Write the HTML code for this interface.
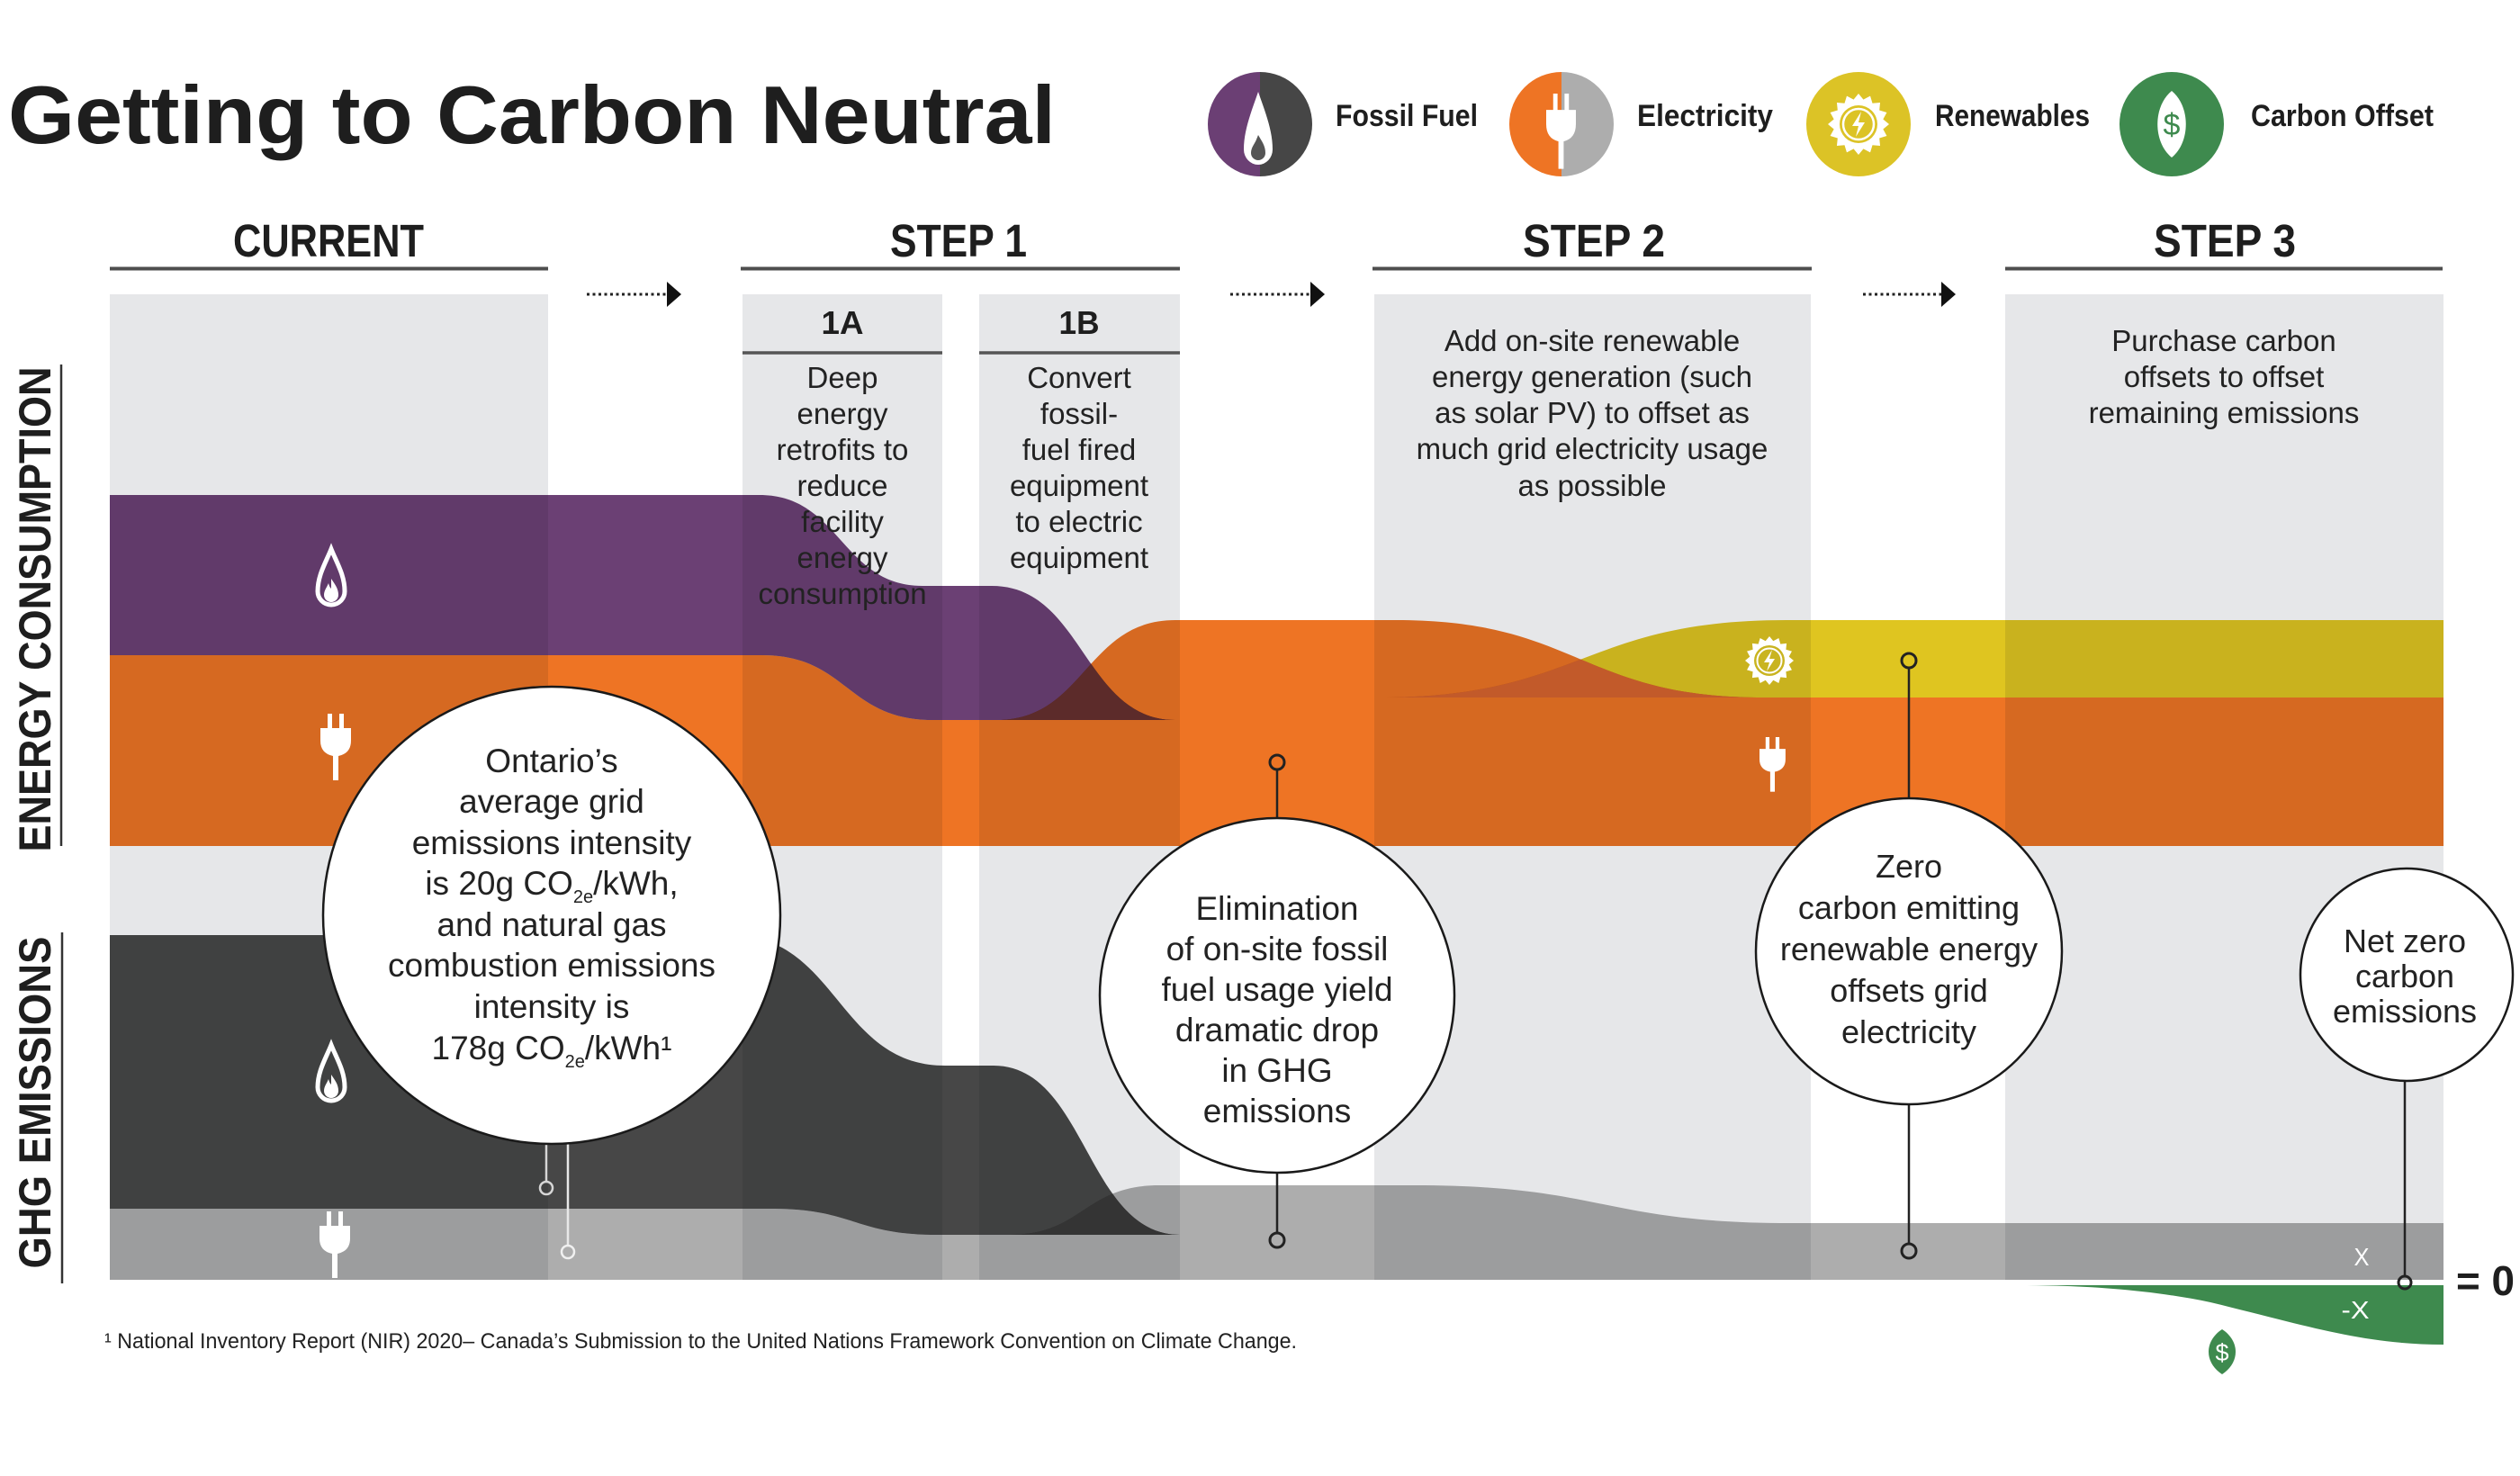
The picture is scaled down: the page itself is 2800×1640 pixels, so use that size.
<!DOCTYPE html>
<html>
<head>
<meta charset="utf-8">
<style>
  html,body{margin:0;padding:0;background:#fff;}
  body{width:2800px;height:1640px;overflow:hidden;}
  svg{display:block;}
  .b{mix-blend-mode:multiply;}
  .t{font-family:"Liberation Sans",Arial,sans-serif;fill:#222;}
  .hd{font-family:"Liberation Sans",Arial,sans-serif;font-weight:bold;fill:#1e1e1e;}
</style>
</head>
<body>
<svg width="2800" height="1640" viewBox="0 0 2800 1640" xmlns="http://www.w3.org/2000/svg">
  <defs>
    <g id="plug" fill="#fff">
      <rect x="8" y="0" width="5" height="18"/>
      <rect x="21" y="0" width="5" height="18"/>
      <path d="M0,16H34V30Q34,44 20,47H14Q0,44 0,30Z"/>
      <rect x="14" y="44" width="6" height="30"/>
    </g>
    <g id="flame">
      <path d="M18,3 C24,18 33,32 33,50 A15,15 0 0 1 3,50 C3,32 12,18 18,3Z" fill="none" stroke="#fff" stroke-width="5"/>
      <path d="M18,36 C22,42 26,47 26,54 A8,8 0 0 1 10,54 C10,49 13,46 15,41 C16,45 17,46 18,47 Z" fill="#fff"/>
    </g>
    <polygon id="star" points="100,0 80.4,16 92.4,38.3 68.2,45.6 70.7,70.7 45.6,68.2 38.3,92.4 16,80.4 0,100 -16,80.4 -38.3,92.4 -45.6,68.2 -70.7,70.7 -68.2,45.6 -92.4,38.3 -80.4,16 -100,0 -80.4,-16 -92.4,-38.3 -68.2,-45.6 -70.7,-70.7 -45.6,-68.2 -38.3,-92.4 -16,-80.4 0,-100 16,-80.4 38.3,-92.4 45.6,-68.2 70.7,-70.7 68.2,-45.6 92.4,-38.3 80.4,-16"/>
    <clipPath id="clipOrange">
      <path d="M122,728 H847 C941,728 941,800 1036,800 H1107 C1206,800 1206,689 1306,689 H1551 C1755,689 1755,775 1959,775 H2715 V940 H122 Z"/>
    </clipPath>
    <clipPath id="clipLight">
      <path d="M122,1343 H857 C949,1343 949,1372 1041,1372 H1121 C1204,1372 1204,1317 1288,1317 H1572 C1781,1317 1781,1359 1990,1359 H2715 V1422 H122 Z"/>
    </clipPath>
  </defs>

  <!-- Title -->
  <text class="hd" x="9" y="159" font-size="91" textLength="1164" lengthAdjust="spacingAndGlyphs" fill="#1a1a1a">Getting to Carbon Neutral</text>

  <!-- Legend -->
  <path d="M1400,80 A58,58 0 0 0 1400,196 Z" fill="#6b3f74"/>
  <path d="M1400,80 A58,58 0 0 1 1400,196 Z" fill="#464646"/>
  <path d="M1398,102 C1406,125 1414,145 1414,166 A16,17 0 0 1 1382,166 C1382,145 1390,125 1398,102 Z" fill="#fff"/>
  <path d="M1398,150 C1402,157 1406,162 1406,170 A8,8 0 0 1 1390,170 C1390,164 1394,160 1396,155 Z" fill="#555"/>
  <text class="hd" x="1484" y="140" font-size="34" textLength="158" lengthAdjust="spacingAndGlyphs">Fossil Fuel</text>

  <path d="M1735,80 A58,58 0 0 0 1735,196 Z" fill="#ee7424"/>
  <path d="M1735,80 A58,58 0 0 1 1735,196 Z" fill="#adadad"/>
  <use href="#plug" transform="translate(1718,104) scale(0.97,1.13)"/>
  <text class="hd" x="1819" y="140" font-size="34" textLength="151" lengthAdjust="spacingAndGlyphs">Electricity</text>

  <circle cx="2065" cy="138" r="58" fill="#dcc326"/>
  <use href="#star" fill="#fff" transform="translate(2065,138) scale(0.34)"/>
  <circle cx="2065" cy="138" r="21" fill="#dcc326"/>
  <circle cx="2065" cy="138" r="17" fill="none" stroke="#fff" stroke-width="2.5"/>
  <polygon points="2068,124 2058,140 2065,140 2062,152 2072,136 2065,136" fill="#fff"/>
  <text class="hd" x="2150" y="140" font-size="34" textLength="172" lengthAdjust="spacingAndGlyphs">Renewables</text>

  <circle cx="2413" cy="138" r="58" fill="#3e8a4e"/>
  <path d="M2413,101 C2434,118 2434,158 2413,175 C2392,158 2392,118 2413,101 Z" fill="#fff"/>
  <text x="2413" y="150" font-family="Liberation Sans, Arial, sans-serif" font-size="34" fill="#3e8a4e" text-anchor="middle">$</text>
  <text class="hd" x="2501" y="140" font-size="34" textLength="203" lengthAdjust="spacingAndGlyphs">Carbon Offset</text>

  <!-- Headers -->
  <text class="hd" x="259" y="285" font-size="51" textLength="212" lengthAdjust="spacingAndGlyphs">CURRENT</text>
  <text class="hd" x="989" y="285" font-size="51" textLength="152" lengthAdjust="spacingAndGlyphs">STEP 1</text>
  <text class="hd" x="1692" y="285" font-size="51" textLength="158" lengthAdjust="spacingAndGlyphs">STEP 2</text>
  <text class="hd" x="2393" y="285" font-size="51" textLength="158" lengthAdjust="spacingAndGlyphs">STEP 3</text>
  <g stroke="#4e4e4e" stroke-width="4">
    <line x1="122" y1="298.5" x2="609" y2="298.5"/>
    <line x1="823" y1="298.5" x2="1311" y2="298.5"/>
    <line x1="1525" y1="298.5" x2="2013" y2="298.5"/>
    <line x1="2228" y1="298.5" x2="2714" y2="298.5"/>
  </g>

  <!-- Dotted arrows -->
  <g stroke="#222" stroke-width="3" stroke-dasharray="3 3.5">
    <line x1="652" y1="327" x2="741" y2="327"/>
    <line x1="1367" y1="327" x2="1457" y2="327"/>
    <line x1="2070" y1="327" x2="2158" y2="327"/>
  </g>
  <g fill="#111">
    <polygon points="741,313 757,327 741,341"/>
    <polygon points="1456,313 1472,327 1456,341"/>
    <polygon points="2157,313 2173,327 2157,341"/>
  </g>

  <!-- Panels -->
  <g fill="#e6e7e9">
    <rect x="122" y="327" width="487" height="1095"/>
    <rect x="825" y="327" width="222" height="1095"/>
    <rect x="1088" y="327" width="223" height="1095"/>
    <rect x="1527" y="327" width="485" height="1095"/>
    <rect x="2228" y="327" width="487" height="1095"/>
  </g>

  <!-- 1A / 1B labels -->
  <text class="hd" x="936" y="371" font-size="36" text-anchor="middle" textLength="47" lengthAdjust="spacingAndGlyphs">1A</text>
  <text class="hd" x="1199" y="371" font-size="36" text-anchor="middle" textLength="45" lengthAdjust="spacingAndGlyphs">1B</text>
  <g stroke="#555" stroke-width="3.5">
    <line x1="825" y1="392" x2="1047" y2="392"/>
    <line x1="1088" y1="392" x2="1311" y2="392"/>
  </g>

  <!-- Bands (multiply) -->
  <path class="b" fill="#6b4074" d="M122,550 H844 C934,550 935,651 1025,651 H1102 C1204,651 1204,800 1306,800 H1036 C941,800 941,728 847,728 H122 Z"/>
  <path class="b" fill="#ee7424" d="M122,728 H847 C941,728 941,800 1036,800 H1107 C1206,800 1206,689 1306,689 H1551 C1755,689 1755,775 1959,775 H2715 V940 H122 Z"/>
  <path class="b" fill="#dfc520" d="M1531,775 C1758,775 1758,689 1985,689 H2715 V775 Z"/>
  <path class="b" fill="#474747" d="M122,1039 H812 C931,1039 931,1184 1050,1184 H1104 C1207,1184 1207,1372 1311,1372 H1041 C949,1372 949,1343 857,1343 H122 Z"/>
  <path class="b" fill="#adadad" d="M122,1343 H857 C949,1343 949,1372 1041,1372 H1121 C1204,1372 1204,1317 1288,1317 H1572 C1781,1317 1781,1359 1990,1359 H2715 V1422 H122 Z"/>

  <!-- Explicit overlap colors -->
  <g clip-path="url(#clipOrange)">
    <path fill="#5c2b2a" d="M1040,651 H1102 C1204,651 1204,800 1306,800 H1040 Z"/>
    <path fill="#c25a2a" d="M1531,775 C1758,775 1758,689 1985,689 H1990 V775 Z"/>
  </g>
  <g clip-path="url(#clipLight)">
    <path fill="#343434" d="M1060,1184 H1104 C1207,1184 1207,1372 1311,1372 H1060 Z"/>
  </g>

  <!-- Green offset -->
  <path fill="#3e8a4e" d="M2241,1428 H2715 V1494 C2625,1494 2560,1472 2456,1447 C2380,1431 2300,1428 2241,1428 Z"/>
  <path d="M2469,1477 C2489,1490 2489,1514 2469,1527 C2449,1514 2449,1490 2469,1477 Z" fill="#3e8a4e"/>
  <text x="2469" y="1512" font-family="Liberation Sans, Arial, sans-serif" font-size="27" fill="#fff" text-anchor="middle">$</text>

  <!-- Band icons -->
  <use href="#flame" transform="translate(350,607)"/>
  <use href="#plug" transform="translate(356,793)"/>
  <use href="#flame" transform="translate(350,1158)"/>
  <use href="#plug" transform="translate(355,1346)"/>
  <use href="#plug" transform="translate(1955,819) scale(0.85,0.82)"/>
  <use href="#star" fill="#fff" transform="translate(1966,734) scale(0.27)"/>
  <circle cx="1966" cy="734" r="17" fill="#c9b421"/>
  <circle cx="1966" cy="734" r="13.5" fill="none" stroke="#fff" stroke-width="2"/>
  <polygon points="1969,722 1960,736 1966,736 1963,746 1972,732 1966,732" fill="#fff"/>

  <!-- Step texts -->
  <g class="t" font-size="33" text-anchor="middle">
    <text x="936" y="431">Deep</text>
    <text x="936" y="471">energy</text>
    <text x="936" y="511">retrofits to</text>
    <text x="936" y="551">reduce</text>
    <text x="936" y="591">facility</text>
    <text x="936" y="631">energy</text>
    <text x="936" y="671">consumption</text>

    <text x="1199" y="431">Convert</text>
    <text x="1199" y="471">fossil-</text>
    <text x="1199" y="511">fuel fired</text>
    <text x="1199" y="551">equipment</text>
    <text x="1199" y="591">to electric</text>
    <text x="1199" y="631">equipment</text>

    <text x="1769" y="390">Add on-site renewable</text>
    <text x="1769" y="430">energy generation (such</text>
    <text x="1769" y="470">as solar PV) to offset as</text>
    <text x="1769" y="510">much grid electricity usage</text>
    <text x="1769" y="551">as possible</text>

    <text x="2471" y="390">Purchase carbon</text>
    <text x="2471" y="430">offsets to offset</text>
    <text x="2471" y="470">remaining emissions</text>
  </g>

  <!-- Y-axis labels -->
  <text class="hd" transform="translate(56,677) rotate(-90)" font-size="50" text-anchor="middle" textLength="539" lengthAdjust="spacingAndGlyphs">ENERGY CONSUMPTION</text>
  <line x1="68" y1="405" x2="68" y2="940" stroke="#333" stroke-width="2.5"/>
  <text class="hd" transform="translate(56,1225) rotate(-90)" font-size="50" text-anchor="middle" textLength="369" lengthAdjust="spacingAndGlyphs">GHG EMISSIONS</text>
  <line x1="69" y1="1036" x2="69" y2="1426" stroke="#333" stroke-width="2.5"/>

  <!-- Connectors -->
  <g fill="none" stroke-width="2.5">
    <line x1="607" y1="1271" x2="607" y2="1313" stroke="#d6d6d6"/>
    <circle cx="607" cy="1320" r="7" stroke="#d6d6d6"/>
    <line x1="631" y1="1271" x2="631" y2="1384" stroke="#e8e8e8"/>
    <circle cx="631" cy="1391" r="7" stroke="#f0f0f0"/>

    <line x1="1419" y1="855" x2="1419" y2="910" stroke="#222"/>
    <circle cx="1419" cy="847" r="8" stroke="#222" stroke-width="3"/>
    <line x1="1419" y1="1303" x2="1419" y2="1370" stroke="#222"/>
    <circle cx="1419" cy="1378" r="8" stroke="#222" stroke-width="3"/>

    <line x1="2121" y1="742" x2="2121" y2="887" stroke="#222"/>
    <circle cx="2121" cy="734" r="8" stroke="#222" stroke-width="3"/>
    <line x1="2121" y1="1227" x2="2121" y2="1382" stroke="#222"/>
    <circle cx="2121" cy="1390" r="8" stroke="#222" stroke-width="3"/>

    <line x1="2672" y1="1201" x2="2672" y2="1418" stroke="#222"/>
    <circle cx="2672" cy="1425" r="7" stroke="#222" stroke-width="3"/>
  </g>

  <!-- Callout circles -->
  <g fill="#fff" stroke="#1a1a1a" stroke-width="2.5">
    <circle cx="613" cy="1017" r="254"/>
    <circle cx="1419" cy="1106" r="197"/>
    <circle cx="2121" cy="1057" r="170"/>
    <circle cx="2674" cy="1083" r="118"/>
  </g>

  <g class="t" font-size="37" text-anchor="middle">
    <text x="613" y="858">Ontario’s</text>
    <text x="613" y="903">average grid</text>
    <text x="613" y="949">emissions intensity</text>
    <text x="613" y="994">is 20g CO<tspan font-size="20" dy="9">2e</tspan><tspan dy="-9">/kWh,</tspan></text>
    <text x="613" y="1040">and natural gas</text>
    <text x="613" y="1085">combustion emissions</text>
    <text x="613" y="1131">intensity is</text>
    <text x="613" y="1177">178g CO<tspan font-size="20" dy="9">2e</tspan><tspan dy="-9">/kWh¹</tspan></text>
  </g>

  <g class="t" font-size="37" text-anchor="middle">
    <text x="1419" y="1022">Elimination</text>
    <text x="1419" y="1067">of on-site fossil</text>
    <text x="1419" y="1112">fuel usage yield</text>
    <text x="1419" y="1157">dramatic drop</text>
    <text x="1419" y="1202">in GHG</text>
    <text x="1419" y="1247">emissions</text>
  </g>

  <g class="t" font-size="36" text-anchor="middle">
    <text x="2121" y="975">Zero</text>
    <text x="2121" y="1021">carbon emitting</text>
    <text x="2121" y="1067">renewable energy</text>
    <text x="2121" y="1113">offsets grid</text>
    <text x="2121" y="1159">electricity</text>
  </g>

  <g class="t" font-size="36" text-anchor="middle">
    <text x="2672" y="1058">Net zero</text>
    <text x="2672" y="1097">carbon</text>
    <text x="2672" y="1136">emissions</text>
  </g>

  <!-- X labels -->
  <text x="2624" y="1406" font-family="Liberation Sans, Arial, sans-serif" font-size="28" fill="#fff" text-anchor="middle" textLength="17" lengthAdjust="spacingAndGlyphs">X</text>
  <text x="2617" y="1465" font-family="Liberation Sans, Arial, sans-serif" font-size="28" fill="#fff" text-anchor="middle" textLength="31" lengthAdjust="spacingAndGlyphs">-X</text>
  <text class="hd" x="2729" y="1439" font-size="46" textLength="65" lengthAdjust="spacingAndGlyphs" fill="#111">= 0</text>

  <!-- Footnote -->
  <text class="t" x="116" y="1498" font-size="24" textLength="1325" lengthAdjust="spacingAndGlyphs" fill="#333">¹ National Inventory Report (NIR) 2020– Canada’s Submission to the United Nations Framework Convention on Climate Change.</text>
</svg>
</body>
</html>
